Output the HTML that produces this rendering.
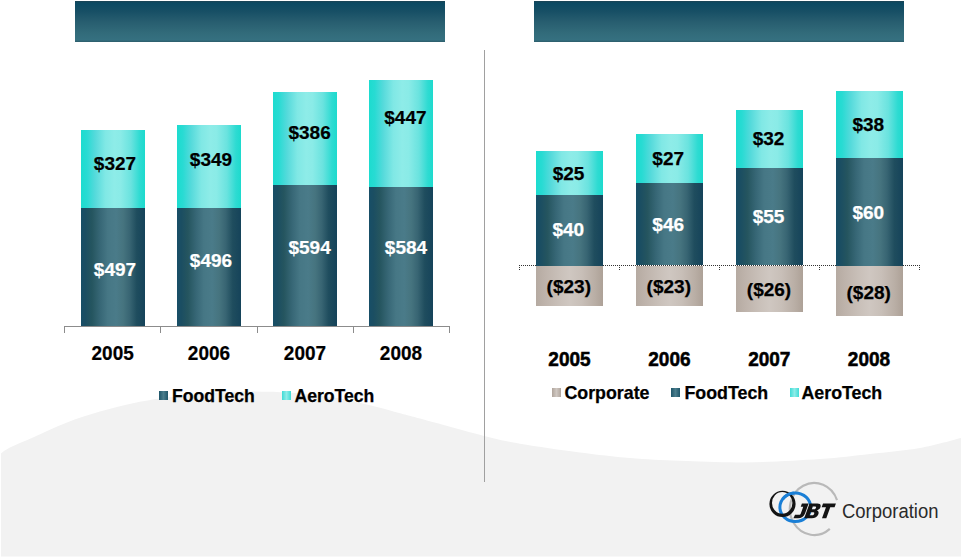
<!DOCTYPE html><html><head><meta charset="utf-8"><style>
html,body{margin:0;padding:0;background:#fff;}
body{width:962px;height:558px;position:relative;overflow:hidden;font-family:"Liberation Sans",sans-serif;}
.t{position:absolute;text-align:center;white-space:nowrap;}
.lg{position:absolute;white-space:nowrap;font-weight:bold;font-size:17.8px;line-height:20px;color:#000;-webkit-text-stroke:0.25px #000;}
.lg1{font-size:17.6px;}
.sq{position:absolute;width:8px;height:9px;}
</style></head><body>
<svg style="position:absolute;left:0;top:0" width="962" height="558"><path d="M1,453.5 C2.5,452.5 4.7,450.3 10,447.6 C15.3,444.9 23.5,441.7 33,437.5 C42.5,433.3 55.8,426.8 67,422.5 C78.2,418.2 89.0,414.8 100,411.6 C111.0,408.4 123.0,405.5 133,403.3 C143.0,401.1 148.8,400.1 160,398.5 C171.2,396.9 186.7,395.1 200,394 C213.3,392.9 228.3,392.0 240,391.6 C251.7,391.2 260.0,391.5 270,391.8 C280.0,392.1 288.3,392.4 300,393.5 C311.7,394.6 327.5,396.3 340,398.5 C352.5,400.7 365.0,404.0 375,406.5 C385.0,409.0 392.5,411.3 400,413.3 C407.5,415.3 406.0,414.8 420,418.6 C434.0,422.4 467.3,431.8 484,436 C500.7,440.2 504.0,440.9 520,443.7 C536.0,446.4 561.7,450.1 580,452.5 C598.3,454.9 613.3,456.6 630,458 C646.7,459.4 660.8,460.1 680,460.8 C699.2,461.5 721.7,462.7 745,462.4 C768.3,462.1 799.2,460.4 820,459 C840.8,457.6 853.3,455.8 870,454 C886.7,452.2 904.8,450.7 920,448 C935.2,445.3 954.2,439.7 961,438  L961,556.5 L1,556.5 Z" fill="#f2f2f2"/></svg>
<div style="position:absolute;left:75px;top:1px;width:370px;height:41px;background:linear-gradient(180deg,#1b4354 0%,#0b4a63 5%,#174f65 25%,#275d6f 50%,#326b7a 78%,#357080 95%,#2c5c6a 100%);"></div>
<div style="position:absolute;left:534px;top:1px;width:370px;height:41px;background:linear-gradient(180deg,#1b4354 0%,#0b4a63 5%,#174f65 25%,#275d6f 50%,#326b7a 78%,#357080 95%,#2c5c6a 100%);"></div>
<div style="position:absolute;left:484px;top:50px;width:1px;height:432px;background:#a0a0a0;"></div>
<div style="position:absolute;left:81px;top:130.2px;width:64px;height:78.30000000000001px;background:linear-gradient(90deg,#1cdccf 0%,#28dbd3 9%,#55dadb 22%,#80e8e5 38%,#8eece8 52%,#8aebe7 62%,#6ae3df 78%,#2edbd2 92%,#1cdacd 100%);"></div>
<div style="position:absolute;left:81px;top:208px;width:64px;height:118px;background:linear-gradient(90deg,#174e67 0%,#1b4e62 7%,#25555f 17%,#376776 30%,#467785 42%,#4a7b89 55%,#46747f 66%,#386573 76%,#1f4d5e 87%,#15435a 100%);"></div>
<div class="t" style="left:55px;top:149.20000000000002px;width:120px;height:30px;line-height:30px;font-size:19px;color:#000;font-weight:bold;-webkit-text-stroke:0.2px #000;">$327</div>
<div class="t" style="left:55px;top:255.2px;width:120px;height:30px;line-height:30px;font-size:19px;color:#fff;font-weight:bold;-webkit-text-stroke:0.2px #fff;">$497</div>
<div class="t" style="left:52.7px;top:339px;width:120px;height:30px;line-height:30px;font-size:19px;color:#000;font-weight:bold;-webkit-text-stroke:0.2px #000;transform:scaleY(1.04);">2005</div>
<div style="position:absolute;left:177px;top:125px;width:64px;height:83.5px;background:linear-gradient(90deg,#1cdccf 0%,#28dbd3 9%,#55dadb 22%,#80e8e5 38%,#8eece8 52%,#8aebe7 62%,#6ae3df 78%,#2edbd2 92%,#1cdacd 100%);"></div>
<div style="position:absolute;left:177px;top:208px;width:64px;height:118px;background:linear-gradient(90deg,#174e67 0%,#1b4e62 7%,#25555f 17%,#376776 30%,#467785 42%,#4a7b89 55%,#46747f 66%,#386573 76%,#1f4d5e 87%,#15435a 100%);"></div>
<div class="t" style="left:151px;top:145.3px;width:120px;height:30px;line-height:30px;font-size:19px;color:#000;font-weight:bold;-webkit-text-stroke:0.2px #000;">$349</div>
<div class="t" style="left:151px;top:246.40000000000003px;width:120px;height:30px;line-height:30px;font-size:19px;color:#fff;font-weight:bold;-webkit-text-stroke:0.2px #fff;">$496</div>
<div class="t" style="left:149px;top:339px;width:120px;height:30px;line-height:30px;font-size:19px;color:#000;font-weight:bold;-webkit-text-stroke:0.2px #000;transform:scaleY(1.04);">2006</div>
<div style="position:absolute;left:273px;top:92.4px;width:64px;height:93.1px;background:linear-gradient(90deg,#1cdccf 0%,#28dbd3 9%,#55dadb 22%,#80e8e5 38%,#8eece8 52%,#8aebe7 62%,#6ae3df 78%,#2edbd2 92%,#1cdacd 100%);"></div>
<div style="position:absolute;left:273px;top:185px;width:64px;height:141px;background:linear-gradient(90deg,#174e67 0%,#1b4e62 7%,#25555f 17%,#376776 30%,#467785 42%,#4a7b89 55%,#46747f 66%,#386573 76%,#1f4d5e 87%,#15435a 100%);"></div>
<div class="t" style="left:249.60000000000002px;top:117.80000000000001px;width:120px;height:30px;line-height:30px;font-size:19px;color:#000;font-weight:bold;-webkit-text-stroke:0.2px #000;">$386</div>
<div class="t" style="left:249.60000000000002px;top:232.5px;width:120px;height:30px;line-height:30px;font-size:19px;color:#fff;font-weight:bold;-webkit-text-stroke:0.2px #fff;">$594</div>
<div class="t" style="left:245px;top:339px;width:120px;height:30px;line-height:30px;font-size:19px;color:#000;font-weight:bold;-webkit-text-stroke:0.2px #000;transform:scaleY(1.04);">2007</div>
<div style="position:absolute;left:369px;top:80px;width:64px;height:107.30000000000001px;background:linear-gradient(90deg,#1cdccf 0%,#28dbd3 9%,#55dadb 22%,#80e8e5 38%,#8eece8 52%,#8aebe7 62%,#6ae3df 78%,#2edbd2 92%,#1cdacd 100%);"></div>
<div style="position:absolute;left:369px;top:186.8px;width:64px;height:139.2px;background:linear-gradient(90deg,#174e67 0%,#1b4e62 7%,#25555f 17%,#376776 30%,#467785 42%,#4a7b89 55%,#46747f 66%,#386573 76%,#1f4d5e 87%,#15435a 100%);"></div>
<div class="t" style="left:345.4px;top:102.5px;width:120px;height:30px;line-height:30px;font-size:19px;color:#000;font-weight:bold;-webkit-text-stroke:0.2px #000;">$447</div>
<div class="t" style="left:346px;top:232.5px;width:120px;height:30px;line-height:30px;font-size:19px;color:#fff;font-weight:bold;-webkit-text-stroke:0.2px #fff;">$584</div>
<div class="t" style="left:341px;top:339px;width:120px;height:30px;line-height:30px;font-size:19px;color:#000;font-weight:bold;-webkit-text-stroke:0.2px #000;transform:scaleY(1.04);">2008</div>
<div style="position:absolute;left:64px;top:326px;width:385px;height:1px;background:#8c8c8c;"></div>
<div style="position:absolute;left:64px;top:326px;width:1px;height:7px;background:#8c8c8c;"></div>
<div style="position:absolute;left:160px;top:326px;width:1px;height:7px;background:#8c8c8c;"></div>
<div style="position:absolute;left:257px;top:326px;width:1px;height:7px;background:#8c8c8c;"></div>
<div style="position:absolute;left:353px;top:326px;width:1px;height:7px;background:#8c8c8c;"></div>
<div style="position:absolute;left:449px;top:326px;width:1px;height:7px;background:#8c8c8c;"></div>
<div style="position:absolute;left:159px;top:391px;width:9px;height:9px;background:linear-gradient(90deg,#1f566a,#4a7d8c 50%,#1f566a);"></div>
<div class="lg lg1" style="left:172px;top:385.5px">FoodTech</div>
<div style="position:absolute;left:282px;top:391px;width:9px;height:9px;background:linear-gradient(90deg,#40dcd6,#8eece8 50%,#40dcd6);"></div>
<div class="lg lg1" style="left:294.5px;top:385.5px">AeroTech</div>
<div style="position:absolute;left:519px;top:265px;width:401px;height:0;border-top:1px dotted #333"></div>
<div style="position:absolute;left:519px;top:265px;width:0;height:5px;border-left:1px dotted #333"></div>
<div style="position:absolute;left:619px;top:265px;width:0;height:5px;border-left:1px dotted #333"></div>
<div style="position:absolute;left:719px;top:265px;width:0;height:5px;border-left:1px dotted #333"></div>
<div style="position:absolute;left:819px;top:265px;width:0;height:5px;border-left:1px dotted #333"></div>
<div style="position:absolute;left:919px;top:265px;width:0;height:5px;border-left:1px dotted #333"></div>
<div style="position:absolute;left:536px;top:151px;width:67px;height:44.0px;background:linear-gradient(90deg,#1cdccf 0%,#28dbd3 9%,#55dadb 22%,#80e8e5 38%,#8eece8 52%,#8aebe7 62%,#6ae3df 78%,#2edbd2 92%,#1cdacd 100%);"></div>
<div style="position:absolute;left:536px;top:194.5px;width:67px;height:71.0px;background:linear-gradient(90deg,#174e67 0%,#1b4e62 7%,#25555f 17%,#376776 30%,#467785 42%,#4a7b89 55%,#46747f 66%,#386573 76%,#1f4d5e 87%,#15435a 100%);"></div>
<div style="position:absolute;left:536px;top:265.5px;width:67px;height:40.69999999999999px;background:linear-gradient(90deg,#b5aaa1 0%,#bdb2aa 12%,#c9c0b9 35%,#cfc7c1 50%,#c8bfb8 68%,#b9aea5 88%,#ada197 100%);"></div>
<div class="t" style="left:508.5px;top:158.5px;width:120px;height:30px;line-height:30px;font-size:19px;color:#000;font-weight:bold;-webkit-text-stroke:0.25px #000;">$25</div>
<div class="t" style="left:508.29999999999995px;top:214.79999999999998px;width:120px;height:30px;line-height:30px;font-size:19px;color:#fff;font-weight:bold;-webkit-text-stroke:0.25px #fff;">$40</div>
<div class="t" style="left:508.79999999999995px;top:272px;width:120px;height:30px;line-height:30px;font-size:19px;color:#000;font-weight:bold;-webkit-text-stroke:0.25px #000;">($23)</div>
<div class="t" style="left:509.5px;top:344.5px;width:120px;height:30px;line-height:30px;font-size:19px;color:#000;font-weight:bold;-webkit-text-stroke:0.5px #000;transform:scaleY(1.08);">2005</div>
<div style="position:absolute;left:636px;top:134.2px;width:67px;height:49.5px;background:linear-gradient(90deg,#1cdccf 0%,#28dbd3 9%,#55dadb 22%,#80e8e5 38%,#8eece8 52%,#8aebe7 62%,#6ae3df 78%,#2edbd2 92%,#1cdacd 100%);"></div>
<div style="position:absolute;left:636px;top:183.2px;width:67px;height:82.30000000000001px;background:linear-gradient(90deg,#174e67 0%,#1b4e62 7%,#25555f 17%,#376776 30%,#467785 42%,#4a7b89 55%,#46747f 66%,#386573 76%,#1f4d5e 87%,#15435a 100%);"></div>
<div style="position:absolute;left:636px;top:265.5px;width:67px;height:40.80000000000001px;background:linear-gradient(90deg,#b5aaa1 0%,#bdb2aa 12%,#c9c0b9 35%,#cfc7c1 50%,#c8bfb8 68%,#b9aea5 88%,#ada197 100%);"></div>
<div class="t" style="left:608.2px;top:143.7px;width:120px;height:30px;line-height:30px;font-size:19px;color:#000;font-weight:bold;-webkit-text-stroke:0.25px #000;">$27</div>
<div class="t" style="left:608.2px;top:209.6px;width:120px;height:30px;line-height:30px;font-size:19px;color:#fff;font-weight:bold;-webkit-text-stroke:0.25px #fff;">$46</div>
<div class="t" style="left:608.8px;top:272px;width:120px;height:30px;line-height:30px;font-size:19px;color:#000;font-weight:bold;-webkit-text-stroke:0.25px #000;">($23)</div>
<div class="t" style="left:609.4px;top:344.5px;width:120px;height:30px;line-height:30px;font-size:19px;color:#000;font-weight:bold;-webkit-text-stroke:0.5px #000;transform:scaleY(1.08);">2006</div>
<div style="position:absolute;left:735.6px;top:110px;width:67px;height:58.30000000000001px;background:linear-gradient(90deg,#1cdccf 0%,#28dbd3 9%,#55dadb 22%,#80e8e5 38%,#8eece8 52%,#8aebe7 62%,#6ae3df 78%,#2edbd2 92%,#1cdacd 100%);"></div>
<div style="position:absolute;left:735.6px;top:167.8px;width:67px;height:97.69999999999999px;background:linear-gradient(90deg,#174e67 0%,#1b4e62 7%,#25555f 17%,#376776 30%,#467785 42%,#4a7b89 55%,#46747f 66%,#386573 76%,#1f4d5e 87%,#15435a 100%);"></div>
<div style="position:absolute;left:735.6px;top:265.5px;width:67px;height:46.5px;background:linear-gradient(90deg,#b5aaa1 0%,#bdb2aa 12%,#c9c0b9 35%,#cfc7c1 50%,#c8bfb8 68%,#b9aea5 88%,#ada197 100%);"></div>
<div class="t" style="left:708.5px;top:123.9px;width:120px;height:30px;line-height:30px;font-size:19px;color:#000;font-weight:bold;-webkit-text-stroke:0.25px #000;">$32</div>
<div class="t" style="left:708.5px;top:201.7px;width:120px;height:30px;line-height:30px;font-size:19px;color:#fff;font-weight:bold;-webkit-text-stroke:0.25px #fff;">$55</div>
<div class="t" style="left:709px;top:274.5px;width:120px;height:30px;line-height:30px;font-size:19px;color:#000;font-weight:bold;-webkit-text-stroke:0.25px #000;">($26)</div>
<div class="t" style="left:709.3px;top:344.5px;width:120px;height:30px;line-height:30px;font-size:19px;color:#000;font-weight:bold;-webkit-text-stroke:0.5px #000;transform:scaleY(1.08);">2007</div>
<div style="position:absolute;left:835.5px;top:90.5px;width:67px;height:68.0px;background:linear-gradient(90deg,#1cdccf 0%,#28dbd3 9%,#55dadb 22%,#80e8e5 38%,#8eece8 52%,#8aebe7 62%,#6ae3df 78%,#2edbd2 92%,#1cdacd 100%);"></div>
<div style="position:absolute;left:835.5px;top:158px;width:67px;height:107.5px;background:linear-gradient(90deg,#174e67 0%,#1b4e62 7%,#25555f 17%,#376776 30%,#467785 42%,#4a7b89 55%,#46747f 66%,#386573 76%,#1f4d5e 87%,#15435a 100%);"></div>
<div style="position:absolute;left:835.5px;top:265.5px;width:67px;height:50.5px;background:linear-gradient(90deg,#b5aaa1 0%,#bdb2aa 12%,#c9c0b9 35%,#cfc7c1 50%,#c8bfb8 68%,#b9aea5 88%,#ada197 100%);"></div>
<div class="t" style="left:808.3px;top:110.1px;width:120px;height:30px;line-height:30px;font-size:19px;color:#000;font-weight:bold;-webkit-text-stroke:0.25px #000;">$38</div>
<div class="t" style="left:808.3px;top:197.79999999999998px;width:120px;height:30px;line-height:30px;font-size:19px;color:#fff;font-weight:bold;-webkit-text-stroke:0.25px #fff;">$60</div>
<div class="t" style="left:808.7px;top:277.5px;width:120px;height:30px;line-height:30px;font-size:19px;color:#000;font-weight:bold;-webkit-text-stroke:0.25px #000;">($28)</div>
<div class="t" style="left:809px;top:344.5px;width:120px;height:30px;line-height:30px;font-size:19px;color:#000;font-weight:bold;-webkit-text-stroke:0.5px #000;transform:scaleY(1.08);">2008</div>
<div style="position:absolute;left:552px;top:388px;width:9px;height:9px;background:linear-gradient(90deg,#b0a59c,#cfc7c1 50%,#b0a59c);"></div>
<div class="lg" style="left:564.5px;top:382.8px">Corporate</div>
<div style="position:absolute;left:671px;top:388px;width:9px;height:9px;background:linear-gradient(90deg,#1f566a,#4a7d8c 50%,#1f566a);"></div>
<div class="lg" style="left:684.5px;top:382.8px">FoodTech</div>
<div style="position:absolute;left:790px;top:388px;width:9px;height:9px;background:linear-gradient(90deg,#40dcd6,#8eece8 50%,#40dcd6);"></div>
<div class="lg" style="left:801.5px;top:382.8px">AeroTech</div>
<svg style="position:absolute;left:0;top:0" width="962" height="558">
<path d="M829.8,528.9 A24.3 26 0 1 1 837,500.1" fill="none" stroke="#b9b9b9" stroke-width="2.2"/>
<ellipse cx="795.3" cy="507.3" rx="15.4" ry="14.3" fill="none" stroke="#1a7fd6" stroke-width="3"/>
<path fill-rule="evenodd" fill="#141414" d="M769.4,503.9 a13.1,13.1 0 1,0 26.2,0 a13.1,13.1 0 1,0 -26.2,0 Z M772,502.95 a10.2,10.85 0 1,0 20.4,0 a10.2,10.85 0 1,0 -20.4,0 Z"/>
<path d="M782.7,499.1 A15.4 14.3 0 0 1 794,493.1" fill="none" stroke="#1a7fd6" stroke-width="3"/>
</svg>
<svg style="position:absolute;left:0;top:0" width="962" height="558"><path fill="#141414" fill-rule="evenodd" transform="matrix(1,0,-0.364,1,798.71,503.6)" d="M3.2,0 H9.9 V9.6 C9.9,13.1 8.1,14.6 4.6,14.6 H0 L0.4,11.2 H4.6 C5.5,11.2 5.7,10.8 5.7,9.9 V3.2 H3.2 Z"/><path fill="#141414" fill-rule="evenodd" transform="matrix(1,0,-0.364,1,809.51,503.6)" d="M0,0 H7.8 C10.7,0 12.2,1.3 12.2,3.6 C12.2,5.3 11.2,6.4 9.8,6.9 C11.6,7.4 12.7,8.7 12.7,10.6 C12.7,13.3 10.7,14.6 7.6,14.6 H0 Z M4.3,2.9 V5.6 H6.8 C7.6,5.6 8,5.2 8,4.2 C8,3.3 7.6,2.9 6.8,2.9 Z M4.3,8.6 V11.7 H7 C7.9,11.7 8.3,11.2 8.3,10.1 C8.3,9.1 7.9,8.6 7,8.6 Z"/><path fill="#141414" fill-rule="evenodd" transform="matrix(1,0,-0.364,1,823.01,503.6)" d="M0,0 H12.9 V3.7 H8.6 V14.6 H4.3 V3.7 H0 Z"/></svg>
<div id="corp" style="position:absolute;left:842px;top:498.5px;font-size:20.5px;line-height:24px;color:#2a2a2a;transform:scaleX(0.9);transform-origin:left top">Corporation</div>
</body></html>
